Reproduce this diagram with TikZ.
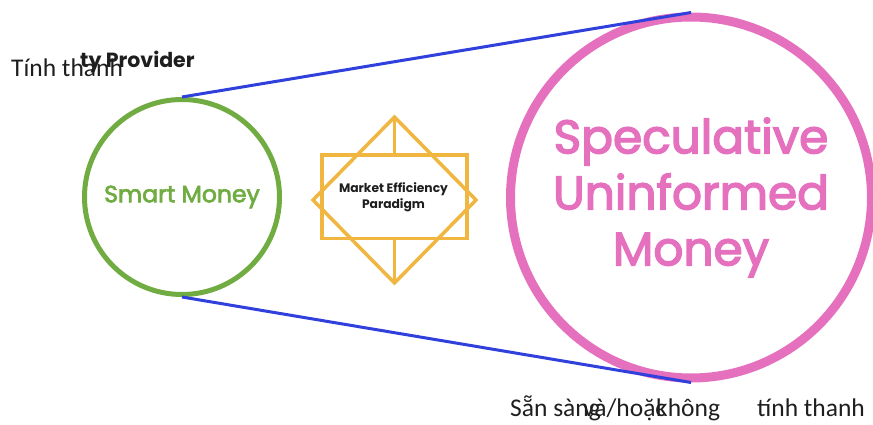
\documentclass[tikz,border=0pt]{standalone}
\usepackage{fontspec}
\setmainfont{Carlito}
\newfontfamily\pop{Poppins}
\newfontfamily\popsb[FakeBold=3]{Poppins}
\definecolor{mgold}{RGB}{240,182,64}
\definecolor{mgreen}{RGB}{112,172,66}
\definecolor{mpink}{RGB}{229,112,190}
\definecolor{mblue}{RGB}{48,64,220}
\definecolor{mink}{RGB}{30,30,30}
\tikzset{
  money/.style={circle, draw, inner sep=0pt, align=center},
  linkline/.style={draw=mblue, line width=3pt},
  goldframe/.style={draw=mgold, line width=3.5pt, line join=miter},
  vnlabel/.style={anchor=base west, inner sep=0pt, text=mink, font=\fontsize{25.5}{30}\selectfont},
}
\begin{document}
\begin{tikzpicture}[x=1pt,y=-1pt]
\useasboundingbox (0,0) rectangle (873,425);
% circles
\node[money, draw=mgreen, line width=5pt, minimum size=195pt, text=mgreen,
      font=\popsb\fontsize{23.5}{28}\selectfont] (smart) at (182,197) {Smart Money};
\node[money, draw=mpink, line width=9pt, minimum size=361pt, text=mpink,
      font=\popsb\fontsize{47}{56}\selectfont] (spec) at (691,197.5) {Speculative\\Uninformed\\Money};
% connectors
\draw[linkline] (smart.north) -- (spec.north);
\draw[linkline] (smart.south) -- (spec.south);
% central emblem
\coordinate (dtop) at (394.5,117);
\coordinate (dbot) at (394.5,283);
\coordinate (dleft) at (313,200);
\coordinate (dright) at (476,200);
\coordinate (rtl) at (322,155);
\coordinate (rbr) at (467,238.5);
\coordinate (rtop) at (394.5,155);
\coordinate (rbot) at (394.5,238.5);
\draw[goldframe] (rtl) rectangle (rbr);
\draw[goldframe] (dtop) -- (dright) -- (dbot) -- (dleft) -- cycle;
\draw[goldframe] (dtop) -- (rtop);
\draw[goldframe] (rbot) -- (dbot);
\node[align=center, inner sep=0pt, text=mink, font=\pop\bfseries\fontsize{12.3}{16}\selectfont] (mep) at (393.5,197) {Market Efficiency\\Paradigm};
% labels
\node[anchor=base west, inner sep=0pt, text=mink, font=\pop\bfseries\fontsize{20.5}{24}\selectfont] (prov) at (80,68) {ty Provider};
\node[vnlabel] (tinh) at (11,77) {Tính thanh};
\node[vnlabel] (san) at (510,416) {Sẵn sàng};
\node[vnlabel] (va) at (583,416) {và/hoặc};
\node[vnlabel] (khong) at (656,416) {không};
\node[vnlabel] (tinh2) at (757,416) {tính thanh};
\end{tikzpicture}
\end{document}
